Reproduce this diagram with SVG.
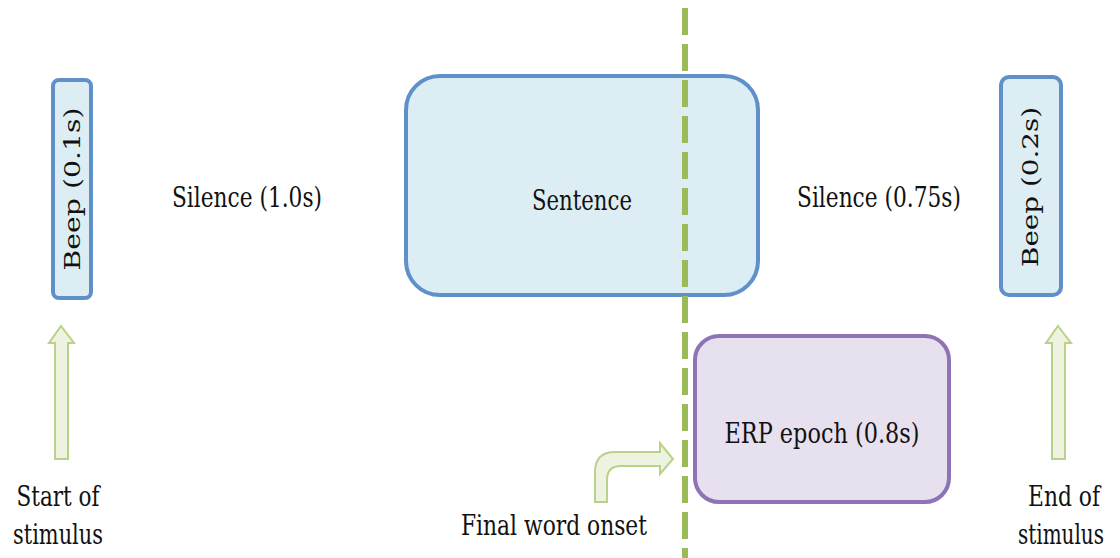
<svg xmlns="http://www.w3.org/2000/svg" width="1120" height="558" viewBox="0 0 1120 558">
  <style>
    .lbl { font-family: 'DejaVu Serif', serif; font-size: 28px; fill: #111; text-anchor: middle; }
    .right { text-anchor: end; }
    .beep { font-family: 'DejaVu Serif', serif; font-size: 23px; fill: #111; text-anchor: middle; }
    .blue { fill: #dcedf3; stroke: #5f90c9; stroke-width: 4; }
    .purple { fill: #e7e0ee; stroke: #8e74b4; stroke-width: 4; }
    .garrow { fill: #edf2e1; stroke: #b9d28a; stroke-width: 2; stroke-linejoin: miter; }
  </style>
  <rect width="1120" height="558" fill="#ffffff"/>

  <!-- timeline blocks -->
  <g id="beep-start">
    <rect class="blue" x="53" y="80" width="38" height="218" rx="6"/>
    <text class="beep" transform="translate(80,189) rotate(-90)" textLength="163" lengthAdjust="spacingAndGlyphs">Beep (0.1s)</text>
  </g>

  <g id="silence-1">
    <text class="lbl" x="247" y="207" textLength="150" lengthAdjust="spacingAndGlyphs">Silence (1.0s)</text>
  </g>

  <g id="sentence">
    <rect class="blue" x="406" y="76" width="352" height="219" rx="34"/>
    <text class="lbl" x="582" y="210" textLength="100" lengthAdjust="spacingAndGlyphs">Sentence</text>
  </g>

  <g id="silence-2">
    <text class="lbl" x="879" y="207" textLength="164" lengthAdjust="spacingAndGlyphs">Silence (0.75s)</text>
  </g>

  <g id="beep-end">
    <rect class="blue" x="1001" y="77" width="60" height="218" rx="8"/>
    <text class="beep" transform="translate(1038,187) rotate(-90)" textLength="160" lengthAdjust="spacingAndGlyphs">Beep (0.2s)</text>
  </g>

  <g id="erp-epoch">
    <rect class="purple" x="695" y="336" width="254" height="166" rx="24"/>
    <text class="lbl" x="822" y="443" textLength="195" lengthAdjust="spacingAndGlyphs">ERP epoch (0.8s)</text>
  </g>

  <!-- markers and timeline cut -->
  <g id="connectors">
    <line x1="685" y1="8" x2="685" y2="558" stroke="#9bbb59" stroke-width="6" stroke-dasharray="27 9"/>
    <!-- start arrow -->
    <path class="garrow" d="M61,326 L74,343 L68,343 L68,459 L55,459 L55,343 L49,343 Z"/>
    <!-- end arrow -->
    <path class="garrow" d="M1058,326 L1071,343 L1065,343 L1065,459 L1052,459 L1052,343 L1046,343 Z"/>
    <!-- bent arrow pointing to the cut -->
    <path class="garrow" d="M595,502 L595,472 Q595,452 615,452 L660,452 L660,443 L673,459 L660,474 L660,466 L621,466 Q607,466 607,480 L607,502 Z"/>
  </g>

  <g id="start-label">
    <text class="lbl" x="58" y="506" textLength="83" lengthAdjust="spacingAndGlyphs">Start of</text>
    <text class="lbl" x="58" y="544" textLength="90" lengthAdjust="spacingAndGlyphs">stimulus</text>
  </g>
  <g id="onset-label">
    <text class="lbl" x="554" y="535" textLength="186" lengthAdjust="spacingAndGlyphs">Final word onset</text>
  </g>
  <g id="end-label">
    <text class="lbl right" x="1100" y="506" textLength="72" lengthAdjust="spacingAndGlyphs">End of</text>
    <text class="lbl right" x="1104" y="544" textLength="86" lengthAdjust="spacingAndGlyphs">stimulus</text>
  </g>
</svg>
